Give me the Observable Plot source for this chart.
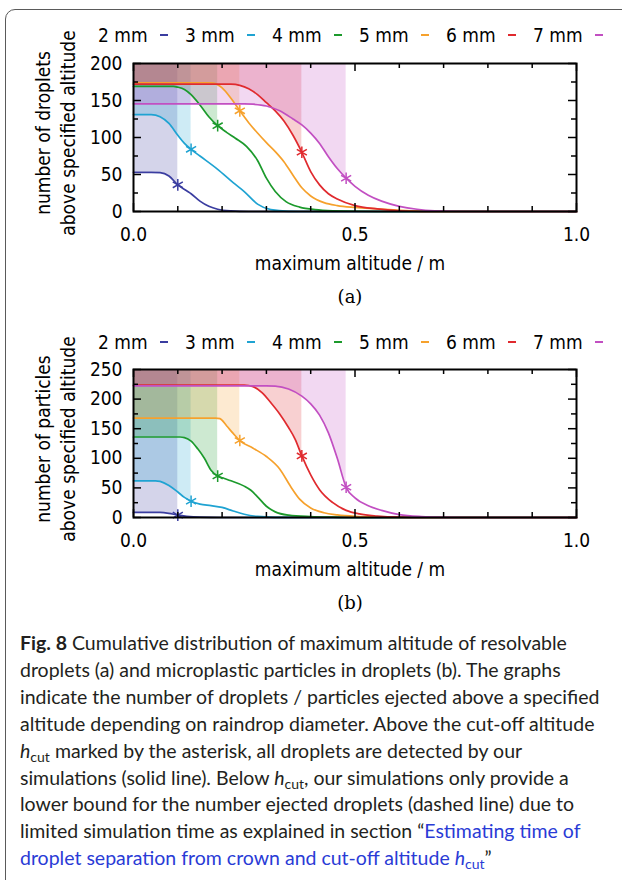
<!DOCTYPE html>
<html>
<head>
<meta charset="utf-8">
<script src="https://cdn.jsdelivr.net/npm/d3@7"></script>
<script src="https://cdn.jsdelivr.net/npm/@observablehq/plot@0.6"></script>
<style>
  body { margin: 0; background: #fff; }
  #root { position: relative; width: 622px; height: 880px; overflow: hidden; font-family: "DejaVu Sans Condensed", "DejaVu Sans", sans-serif; color: #000; }
  .box { position: absolute; left: 5px; top: 9px; width: 720px; height: 1000px; border: 1.5px solid #5a5a5a; border-radius: 10px; }
  .abs { position: absolute; white-space: nowrap; }
  .leg { font-size: 19px; line-height: 22px; display: flex; align-items: center; }
  .dash { display: inline-block; width: 8px; height: 2px; margin-left: 12px; }
  .ylab { font-size: 19px; line-height: 25px; text-align: center; transform: translate(-50%, -50%) rotate(-90deg); white-space: pre; }
  .xlab { font-size: 19px; transform: translateX(-50%); }
  .sub { font-family: "DejaVu Serif", "Liberation Serif", serif; font-size: 18px; transform: translateX(-50%); }
  .cap { left: 20px; font-family: Lato, "Open Sans", sans-serif; font-size: 19.5px; line-height: 24px; color: #231f20; }
  .cap b { font-weight: 700; }
  .link { color: #2a3bd6; }
  sub { font-size: 0.72em; vertical-align: -0.25em; line-height: 0; }
</style>
</head>
<body>
<div id="root">
  <div class="box"></div>
</div>
<script>
// ---------- data ----------
const diameters = ["2 mm", "3 mm", "4 mm", "5 mm", "6 mm", "7 mm"];
const colors = ["#3a3da0", "#1fa3d2", "#1c9a2c", "#f6a12c", "#e02a2e", "#c24fc2"];
const hcut = [0.10, 0.13, 0.19, 0.24, 0.38, 0.48];

const xMajorTicks = [0, 0.5, 1.0];
const xMinorTicks = [0.1, 0.2, 0.3, 0.4, 0.6, 0.7, 0.8, 0.9];
const yTicksA = [0, 50, 100, 150, 200];
const yMinorA = [25, 75, 125, 175];
const yTicksB = [0, 50, 100, 150, 200, 250];
const yMinorB = [25, 75, 125, 175, 225];

// (a) droplets above altitude: [altitude m, count]
const droplets2mm = [[0,53],[0.04,53],[0.06,52.5],[0.08,48],[0.10,36],[0.12,28],[0.13,24],[0.15,14],[0.17,7],[0.19,3],[0.22,0.8],[0.26,0],[1,0]];
const droplets3mm = [[0,131],[0.04,131],[0.06,128],[0.08,119],[0.10,103],[0.115,92],[0.13,84],[0.15,75],[0.19,57],[0.225,39],[0.25,27],[0.28,10],[0.31,2.5],[0.35,0.3],[0.4,0],[1,0]];
const droplets4mm = [[0,169],[0.09,169],[0.10,168],[0.115,165],[0.13,158],[0.15,144],[0.17,128],[0.19,116],[0.21,107],[0.23,99],[0.255,88],[0.28,69],[0.30,45],[0.32,27],[0.345,13],[0.375,6],[0.41,2.5],[0.45,1],[0.55,0],[1,0]];
const droplets5mm = [[0,174],[0.17,174],[0.18,173.5],[0.20,167],[0.22,153],[0.24,136],[0.26,120],[0.28,106],[0.30,93],[0.32,81],[0.34,67],[0.36,49],[0.38,32],[0.40,21],[0.43,12],[0.46,8],[0.50,5.5],[0.55,3.5],[0.60,1.5],[0.65,0.3],[0.7,0],[1,0]];
const droplets6mm = [[0,172],[0.22,172],[0.24,170.5],[0.26,166],[0.28,158],[0.30,147],[0.32,136],[0.34,122],[0.36,103],[0.38,80],[0.40,54],[0.42,36],[0.44,24],[0.46,17],[0.50,8],[0.55,3.5],[0.60,1],[0.65,0],[1,0]];
const droplets7mm = [[0,145.5],[0.25,145.5],[0.27,145],[0.30,142.5],[0.33,136],[0.36,125],[0.38,117],[0.40,106],[0.42,92],[0.44,74],[0.46,58],[0.48,45],[0.50,34],[0.53,22],[0.56,14],[0.60,7],[0.64,3],[0.68,1],[0.75,0],[1,0]];

// (b) particles above altitude: [altitude m, count]
const particles2mm = [[0,8.5],[0.06,8.5],[0.08,7],[0.10,4],[0.12,2],[0.15,0.5],[0.2,0],[1,0]];
const particles3mm = [[0,62],[0.05,62],[0.06,61],[0.08,54],[0.10,43],[0.115,34],[0.13,27.5],[0.15,22.5],[0.175,20],[0.20,17],[0.225,11],[0.25,5.5],[0.28,1.8],[0.32,0.3],[0.4,0],[1,0]];
const particles4mm = [[0,136],[0.105,136],[0.115,135],[0.13,129],[0.145,116],[0.16,100],[0.175,80],[0.19,70],[0.205,66],[0.22,62],[0.25,53],[0.265,46],[0.28,35],[0.30,19],[0.32,9.5],[0.35,4],[0.40,1.5],[0.45,0.5],[0.5,0],[1,0]];
const particles5mm = [[0,168],[0.185,168],[0.195,167],[0.21,155],[0.225,142],[0.24,130],[0.27,117],[0.30,103],[0.33,82],[0.355,52],[0.375,31],[0.40,16],[0.43,8],[0.46,4.5],[0.50,2],[0.55,0.8],[0.6,0],[1,0]];
const particles6mm = [[0,223.5],[0.25,223.5],[0.27,221],[0.29,211],[0.31,194],[0.33,175],[0.35,152],[0.365,132],[0.38,104],[0.40,72],[0.42,47],[0.45,25],[0.48,12],[0.51,6],[0.55,2.5],[0.6,0.5],[0.65,0],[1,0]];
const particles7mm = [[0,222.5],[0.30,222.5],[0.32,222],[0.35,217],[0.38,205],[0.40,192],[0.42,173],[0.44,143],[0.46,100],[0.48,51],[0.50,33],[0.53,20],[0.56,12],[0.60,5],[0.65,1.5],[0.7,0.3],[0.75,0],[1,0]];

const dropletSeries = [droplets2mm, droplets3mm, droplets4mm, droplets5mm, droplets6mm, droplets7mm];
const particleSeries = [particles2mm, particles3mm, particles4mm, particles5mm, particles6mm, particles7mm];

// ---------- layout ----------
const root = document.getElementById("root");
const W = 622, ML = 133, MR = 46, MT = 13, MB = 40, FH = 148, FW = W - ML - MR;

function addDiv(cls, left, top, html) {
  const d = document.createElement("div");
  d.className = "abs " + cls;
  d.style.left = left + "px";
  d.style.top = top + "px";
  d.innerHTML = html;
  root.appendChild(d);
  return d;
}

function panel(series, ymax, yTicks, yMinor, svgTop, ylabel, tag, legendTop) {
  const rows = series.flatMap((s, i) => s.map(([x, y]) => ({x, y, d: diameters[i], i})));
  const shade = rows.filter(r => r.x <= hcut[r.i] + 1e-9);
  const cuts = rows.filter(r => Math.abs(r.x - hcut[r.i]) < 1e-9);
  const chart = Plot.plot({
    width: W, height: MT + FH + MB,
    marginLeft: ML, marginRight: MR, marginTop: MT, marginBottom: MB,
    style: {fontFamily: "'DejaVu Sans Condensed', 'DejaVu Sans', sans-serif", fontSize: "19px", color: "#000", background: "transparent", overflow: "visible"},
    x: {domain: [0, 1]},
    y: {domain: [0, ymax]},
    color: {domain: diameters, range: colors},
    marks: [
      Plot.areaY(shade, {x: "x", y1: "y", y2: () => ymax, z: "d", fill: "d", fillOpacity: 0.22, curve: "monotone-x"}),
      Plot.line(rows, {x: "x", y: "y", z: "d", stroke: "d", strokeWidth: 1.7, curve: "monotone-x"}),
      Plot.dot(cuts, {x: "x", y: "y", stroke: "d", symbol: "asterisk", r: 5.5, strokeWidth: 1.5}),
      Plot.ruleX(xMajorTicks, {x: d => d, insetTop: FH - 8, stroke: "#000", strokeWidth: 1.5}),
      Plot.ruleX(xMajorTicks, {x: d => d, insetBottom: FH - 8, stroke: "#000", strokeWidth: 1.5}),
      Plot.ruleX(xMinorTicks, {x: d => d, insetTop: FH - 5, stroke: "#000", strokeWidth: 1.5}),
      Plot.ruleX(xMinorTicks, {x: d => d, insetBottom: FH - 5, stroke: "#000", strokeWidth: 1.5}),
      Plot.ruleY(yTicks, {y: d => d, insetRight: FW - 8, stroke: "#000", strokeWidth: 1.5}),
      Plot.ruleY(yTicks, {y: d => d, insetLeft: FW - 8, stroke: "#000", strokeWidth: 1.5}),
      Plot.ruleY(yMinor, {y: d => d, insetRight: FW - 5, stroke: "#000", strokeWidth: 1.5}),
      Plot.ruleY(yMinor, {y: d => d, insetLeft: FW - 5, stroke: "#000", strokeWidth: 1.5}),
      Plot.frame({stroke: "#000", strokeWidth: 2}),
      Plot.axisX(xMajorTicks, {tickSize: 0, tickPadding: 16, tickFormat: d3.format(".1f"), label: null}),
      Plot.axisY(yTicks, {tickSize: 0, tickPadding: 11, label: null})
    ]
  });
  chart.style.position = "absolute";
  chart.style.left = "0px";
  chart.style.top = svgTop + "px";
  root.appendChild(chart);

  // legend (label then colored sample)
  diameters.forEach((d, i) => {
    addDiv("leg", 98 + i * 87, legendTop, `<span>${d}</span><span class="dash" style="background:${colors[i]}"></span>`);
  });
  const frameTop = svgTop + MT;
  addDiv("ylab", 56, frameTop + FH / 2 - 4, ylabel);
  addDiv("xlab", 350, frameTop + FH + 41, "maximum altitude / m");
  addDiv("sub", 350, frameTop + FH + 75, tag);
}

panel(dropletSeries, 200, yTicksA, yMinorA, 50, "number of droplets\nabove specified altitude", "(a)", 24);
panel(particleSeries, 250, yTicksB, yMinorB, 356, "number of particles\nabove specified altitude", "(b)", 331);

// caption
const captionLines = [
  "<b>Fig. 8</b> Cumulative distribution of maximum altitude of resolvable",
  "droplets (a) and microplastic particles in droplets (b). The graphs",
  "indicate the number of droplets / particles ejected above a specified",
  "altitude depending on raindrop diameter. Above the cut-off altitude",
  "<i>h</i><sub>cut</sub> marked by the asterisk, all droplets are detected by our",
  "simulations (solid line). Below <i>h</i><sub>cut</sub>, our simulations only provide a",
  "lower bound for the number ejected droplets (dashed line) due to",
  "limited simulation time as explained in section \u201c<span class=\"link\">Estimating time of</span>",
  "<span class=\"link\">droplet separation from crown and cut-off altitude <i>h</i><sub>cut</sub></span>\u201d"
];
captionLines.forEach((t, k) => {
  addDiv("cap", 20, 631 + k * 26.9, t);
});
</script>
</body>
</html>
